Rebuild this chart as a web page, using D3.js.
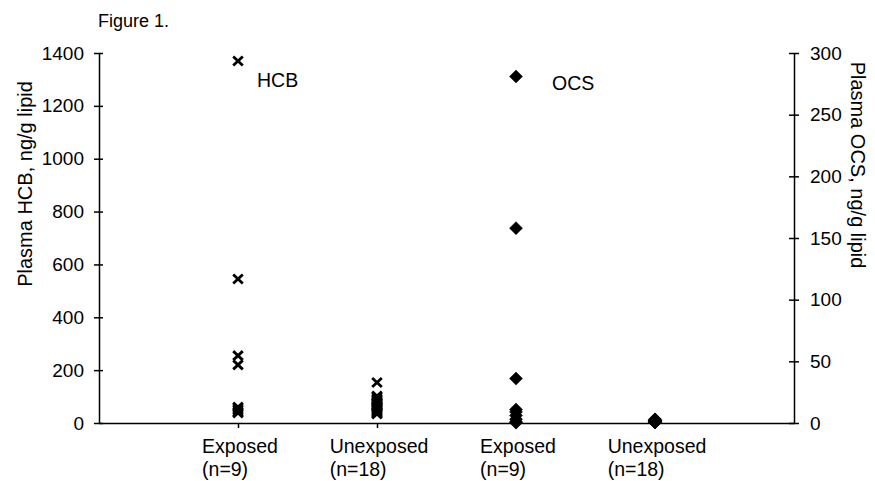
<!DOCTYPE html>
<html>
<head>
<meta charset="utf-8">
<script src="https://cdn.jsdelivr.net/npm/d3@7"></script>
<style>
    body { margin: 0; background: #fff; }
    svg { font-family: 'Liberation Sans', Arial, sans-serif; }
    .axis path, .axis line { stroke: #000; stroke-width: 1.5; }
    .axis text { font-size: 19px; fill: #000; }
</style>
</head>
<body>
<div id="chart"></div>
<script>
//Data
const groups = [
    ['Exposed', '(n=9)'],
    ['Unexposed', '(n=18)'],
    ['Exposed', '(n=9)'],
    ['Unexposed', '(n=18)']
];
const hcbExposed = [1370, 545, 255, 220, 60, 55, 48, 42, 38];
const hcbUnexposed = [153, 102, 98, 92, 88, 84, 80, 76, 70, 66, 62, 58, 55, 50, 46, 42, 38, 34];
const ocsExposed = [281, 158, 36, 11, 9, 6, 3, 1, 0.3];
const ocsUnexposed = [3, 2.6, 2.4, 2.2, 2, 2, 1.8, 1.6, 1.5, 1.4, 1.2, 1.1, 1, 1, 0.9, 0.8, 0.7, 0.5];
const leftTicks = [0, 200, 400, 600, 800, 1000, 1200, 1400];
const rightTicks = [0, 50, 100, 150, 200, 250, 300];

let width = 875, height = 481;
let margin = {top: 53, right: 81, bottom: 58, left: 99};

let svg = d3.select('#chart')
    .append('svg')
        .attr('width', width)
        .attr('height', height);

let x = d3.scaleLinear()
    .domain([0, 5])
    .range([margin.left, width - margin.right]);

let yL = d3.scaleLinear()
    .domain([0, 1400])
    .range([height - margin.bottom, margin.top]);

let yR = d3.scaleLinear()
    .domain([0, 300])
    .range([height - margin.bottom, margin.top]);

//Ejes
svg.append('g')
    .attr('class', 'axis')
    .attr('transform', 'translate(' + x(0) + ',0)')
    .call(d3.axisLeft(yL).tickValues(leftTicks).tickFormat(d3.format('d')).tickSize(5).tickSizeOuter(0).tickPadding(10))
    .call(function(g) { g.selectAll('.tick line').attr('x1', 4); });

svg.append('g')
    .attr('class', 'axis')
    .attr('transform', 'translate(' + x(5) + ',0)')
    .call(d3.axisRight(yR).tickValues(rightTicks).tickFormat(d3.format('d')).tickSize(5).tickSizeOuter(0).tickPadding(11))
    .call(function(g) { g.selectAll('.tick line').attr('x1', -5); });

svg.append('g')
    .attr('class', 'axis')
    .attr('transform', 'translate(0,' + yL(0) + ')')
    .call(d3.axisBottom(x).tickValues([1, 2, 3, 4]).tickFormat('').tickSize(5).tickSizeOuter(0));

//Etiquetas de grupo (dos líneas, alineadas a la izquierda y centradas como bloque)
groups.forEach(function(lines, i) {
    let t = svg.append('text')
        .attr('y', 453)
        .style('font-size', '19.5px');
    lines.forEach(function(l, j) {
        t.append('tspan').attr('dy', j ? 23 : 0).text(l);
    });
    let w = d3.max(t.selectAll('tspan').nodes(), function(n) { return n.getComputedTextLength(); });
    t.selectAll('tspan').attr('x', x(i + 1) - w / 2 + 2);
});

//Marcadores
const xMark = 'M-4.8,-4.5L4.8,4.5M-4.8,4.5L4.8,-4.5';
const diamond = 'M0,-6.5L6.5,0L0,6.5L-6.5,0Z';

function drawPoints(values, pos, scale, path, filled) {
    svg.append('g')
        .selectAll('path')
        .data(values)
        .enter()
        .append('path')
        .attr('transform', function(d) { return 'translate(' + x(pos) + ',' + scale(d) + ')'; })
        .attr('d', path)
        .attr('fill', filled ? '#000' : 'none')
        .attr('stroke', '#000')
        .attr('stroke-width', filled ? 0.5 : 2.8);
}

drawPoints(hcbExposed, 1, yL, xMark, false);
drawPoints(hcbUnexposed, 2, yL, xMark, false);
drawPoints(ocsExposed, 3, yR, diamond, true);
drawPoints(ocsUnexposed, 4, yR, diamond, true);

//Textos
svg.append('text')
    .attr('x', 98).attr('y', 27)
    .style('font-size', '18px')
    .text('Figure 1.');

svg.append('text')
    .attr('x', 257).attr('y', 87)
    .style('font-size', '19.5px')
    .text('HCB');

svg.append('text')
    .attr('x', 552).attr('y', 90)
    .style('font-size', '19.5px')
    .text('OCS');

svg.append('text')
    .attr('transform', 'translate(32,184) rotate(-90)')
    .attr('text-anchor', 'middle')
    .style('font-size', '20px')
    .text('Plasma HCB, ng/g lipid');

svg.append('text')
    .attr('transform', 'translate(851,165) rotate(90)')
    .attr('text-anchor', 'middle')
    .style('font-size', '20px')
    .text('Plasma OCS, ng/g lipid');
</script>
</body>
</html>
